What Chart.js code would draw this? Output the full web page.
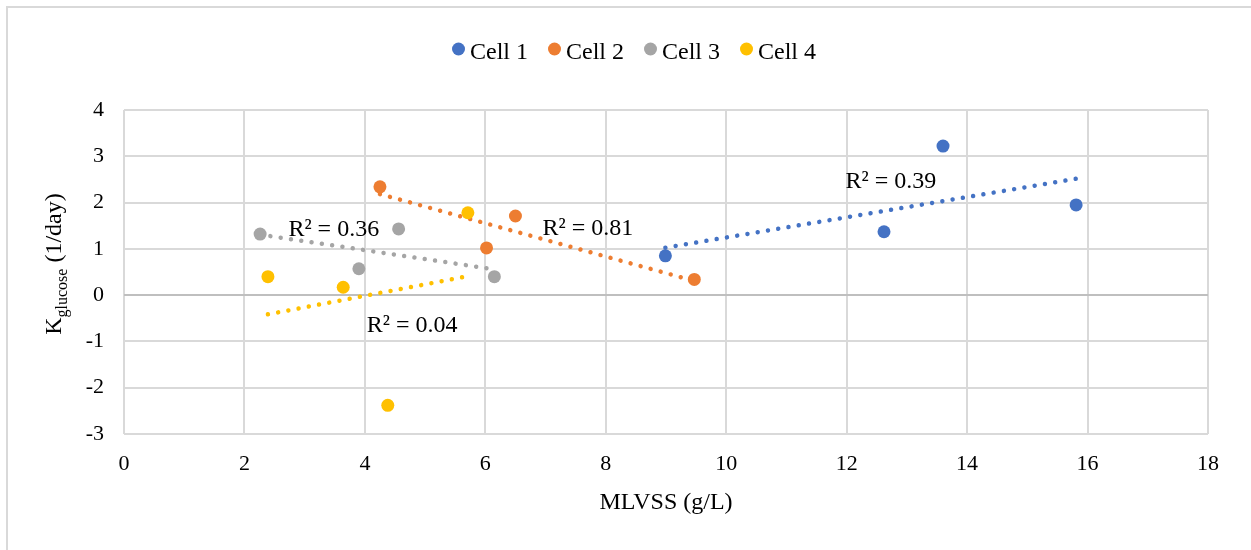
<!DOCTYPE html>
<html>
<head>
<meta charset="utf-8">
<script src="https://cdn.jsdelivr.net/npm/chart.js@4/dist/chart.umd.min.js"></script>
<style>
  html, body { margin: 0; padding: 0; background: #fff; }
  #wrap { width: 1251px; height: 550px; }
</style>
</head>
<body>
<div id="wrap"><canvas id="c" width="1251" height="550"></canvas></div>
<script>
// MLVSS (g/L) and glucose rate constant for each cell
const cell1X = [8.99, 12.62, 13.60, 15.81];
const cell1Y = [0.85, 1.37, 3.22, 1.95];
const cell2X = [4.25, 6.02, 6.50, 9.47];
const cell2Y = [2.34, 1.02, 1.71, 0.34];
const cell3X = [2.26, 3.90, 4.56, 6.15];
const cell3Y = [1.32, 0.57, 1.43, 0.40];
const cell4X = [2.39, 3.64, 4.38, 5.71];
const cell4Y = [0.40, 0.17, -2.38, 1.78];

const seriesNames = ['Cell 1', 'Cell 2', 'Cell 3', 'Cell 4'];
const seriesColors = ['#4472C4', '#ED7D31', '#A5A5A5', '#FFC000'];

// Fit labels: text, and where its left/baseline sits in axis units
const fitTexts = ['R² = 0.39', 'R² = 0.81', 'R² = 0.36', 'R² = 0.04'];
const fitAnchorX = [11.98, 6.95, 2.73, 4.03];
const fitAnchorY = [2.31, 1.30, 1.28, -0.80];

const xTicks = [0, 2, 4, 6, 8, 10, 12, 14, 16, 18];
const yTicks = [-3, -2, -1, 0, 1, 2, 3, 4];

const FONT = "'Liberation Serif', 'Times New Roman', serif";

const xs = [cell1X, cell2X, cell3X, cell4X];
const ys = [cell1Y, cell2Y, cell3Y, cell4Y];

function pts(xArr, yArr) { return xArr.map((x, i) => ({ x: x, y: yArr[i] })); }

// least-squares straight line over the span of the data
function linearFit(xArr, yArr) {
  const n = xArr.length;
  const mx = xArr.reduce((a, b) => a + b, 0) / n;
  const my = yArr.reduce((a, b) => a + b, 0) / n;
  let sxy = 0, sxx = 0;
  for (let i = 0; i < n; i++) { sxy += (xArr[i] - mx) * (yArr[i] - my); sxx += (xArr[i] - mx) ** 2; }
  const b = sxy / sxx, a = my - b * mx;
  const x0 = Math.min(...xArr), x1 = Math.max(...xArr);
  return [{ x: x0, y: a + b * x0 }, { x: x1, y: a + b * x1 }];
}

const datasets = [];
for (let i = 0; i < 4; i++) {
  datasets.push({
    label: seriesNames[i],
    data: pts(xs[i], ys[i]),
    backgroundColor: seriesColors[i],
    borderColor: seriesColors[i],
    pointRadius: 6.5,
    pointBorderWidth: 0,
    showLine: false,
    order: 1
  });
}
for (let i = 0; i < 4; i++) {
  datasets.push({
    label: seriesNames[i] + ' trend',
    data: linearFit(xs[i], ys[i]),
    type: 'line',
    borderColor: seriesColors[i],
    borderWidth: 4.5,
    borderDash: [0.001, 10.4],
    borderCapStyle: 'round',
    pointRadius: 0,
    fill: false,
    order: 2
  });
}

const decor = {
  id: 'decor',
  beforeDraw(chart) {
    const ctx = chart.ctx;
    ctx.save();
    ctx.fillStyle = '#fff';
    ctx.fillRect(0, 0, chart.width, chart.height);
    ctx.strokeStyle = '#d9d9d9';
    ctx.lineWidth = 2;
    ctx.strokeRect(7, 7, chart.width + 20, chart.height + 20);
    ctx.restore();
  },
  afterDraw(chart) {
    const ctx = chart.ctx;
    const xs_ = chart.scales.x, ys_ = chart.scales.y;
    const area = chart.chartArea;
    ctx.save();
    ctx.fillStyle = '#000';
    ctx.textBaseline = 'alphabetic';

    // legend
    ctx.font = '24px ' + FONT;
    const r = 6.5, gap = 5, spacing = 20;
    const widths = seriesNames.map(s => ctx.measureText(s).width);
    const total = widths.reduce((a, b) => a + b, 0) + seriesNames.length * (2 * r + gap) + (seriesNames.length - 1) * spacing;
    let lx = 634 - total / 2;
    for (let i = 0; i < seriesNames.length; i++) {
      ctx.fillStyle = seriesColors[i];
      ctx.beginPath();
      ctx.arc(lx + r, 49, r, 0, Math.PI * 2);
      ctx.fill();
      lx += 2 * r + gap;
      ctx.fillStyle = '#000';
      ctx.textAlign = 'left';
      ctx.fillText(seriesNames[i], lx, 59);
      lx += widths[i] + spacing;
    }

    // fit labels
    ctx.font = '24px ' + FONT;
    ctx.textAlign = 'left';
    for (let i = 0; i < fitTexts.length; i++) {
      ctx.fillText(fitTexts[i], xs_.getPixelForValue(fitAnchorX[i]), ys_.getPixelForValue(fitAnchorY[i]));
    }

    // x axis title
    ctx.textAlign = 'center';
    ctx.font = '24px ' + FONT;
    ctx.fillText('MLVSS (g/L)', (area.left + area.right) / 2, 509);

    // y axis title with subscript
    ctx.save();
    ctx.translate(61, 264);
    ctx.rotate(-Math.PI / 2);
    ctx.textAlign = 'left';
    const big = '24px ' + FONT, small = '16px ' + FONT;
    ctx.font = big; const wK = ctx.measureText('K').width;
    ctx.font = small; const wSub = ctx.measureText('glucose').width;
    ctx.font = big; const wRest = ctx.measureText(' (1/day)').width;
    let tx = -(wK + wSub + wRest) / 2;
    ctx.font = big; ctx.fillText('K', tx, 0); tx += wK;
    ctx.font = small; ctx.fillText('glucose', tx, 6); tx += wSub;
    ctx.font = big; ctx.fillText(' (1/day)', tx, 0);
    ctx.restore();

    ctx.restore();
  }
};

new Chart(document.getElementById('c'), {
  type: 'scatter',
  data: { datasets: datasets },
  options: {
    responsive: false,
    animation: false,
    devicePixelRatio: 1,
    layout: { padding: { top: 110, right: 43, left: 0, bottom: 0 } },
    plugins: { legend: { display: false }, tooltip: { enabled: false } },
    scales: {
      x: {
        type: 'linear',
        min: 0, max: 18,
        afterBuildTicks: s => { s.ticks = xTicks.map(v => ({ value: v })); },
        afterFit: s => { s.height = 116; },
        grid: { color: '#d9d9d9', lineWidth: 2, drawTicks: false },
        border: { display: false },
        ticks: { color: '#000', padding: 17, font: { family: FONT, size: 22 } }
      },
      y: {
        type: 'linear',
        min: -3, max: 4,
        afterBuildTicks: s => { s.ticks = yTicks.map(v => ({ value: v })); },
        afterFit: s => { s.width = 124; },
        grid: {
          color: c => (c.tick && c.tick.value === 0) ? '#bfbfbf' : '#d9d9d9',
          lineWidth: 2, drawTicks: false
        },
        border: { display: false },
        ticks: { color: '#000', padding: 20, font: { family: FONT, size: 22 } }
      }
    }
  },
  plugins: [decor]
});
</script>
</body>
</html>
